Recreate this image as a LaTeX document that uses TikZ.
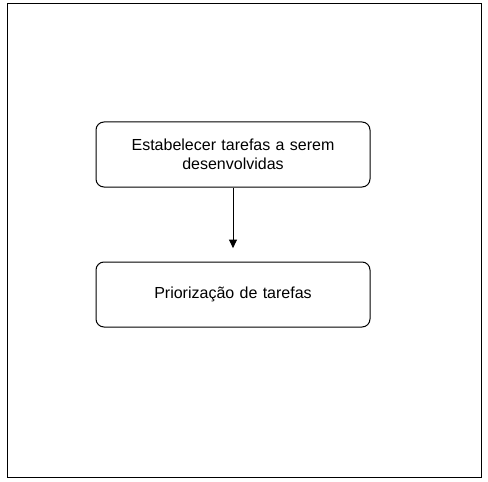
\documentclass[tikz,border=0pt]{standalone}
\usepackage{fontspec}
\setmainfont{Liberation Sans}
\usetikzlibrary{positioning,arrows.meta}

\begin{document}
\begin{tikzpicture}[
    x=0.75pt, y=-0.75pt,
    box/.style={rectangle, rounded corners=6pt, draw, line width=0.75pt, text width=195pt, align=center, minimum width=205.5pt, minimum height=48.75pt, font=\fontsize{12}{14.25}\selectfont},
    arrow/.style={-{Triangle[length=6.5pt, width=6pt]}, line width=0.75pt}
]
\useasboundingbox (0,0) rectangle (488,481);

% Outer frame
\draw[line width=0.75pt] (7,4) rectangle (481,477);

% Boxes
\node[box] (tasks) at (233,154.5) {Estabelecer tarefas a serem\\desenvolvidas};
\node[box] (priority) at (233,294.5) {Priorização de tarefas};

% Arrow
\draw[arrow, shorten >=10pt] (tasks) -- (priority);

\end{tikzpicture}
\end{document}
